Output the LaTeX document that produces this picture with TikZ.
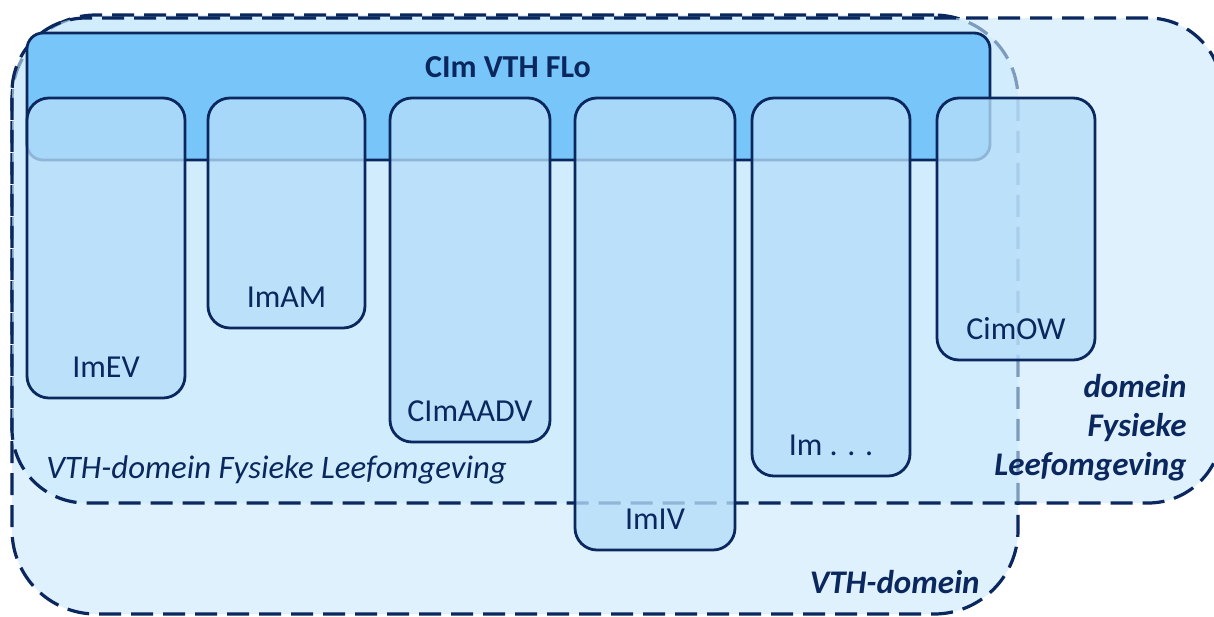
\documentclass[tikz,border=0pt]{standalone}
\usepackage{fontspec}
\setmainfont{Carlito}
\definecolor{navy}{HTML}{0A275E}
\definecolor{regfill}{HTML}{C8E9FD}
\definecolor{bandfill}{HTML}{78C5F9}
\definecolor{boxfill}{HTML}{B5DDFA}
\begin{document}
\begin{tikzpicture}[x=0.5pt,y=-0.5pt,
  sz/.style 2 args={minimum width=#1*0.5pt, minimum height=#2*0.5pt},
  basebox/.style={rectangle, inner sep=0pt, outer sep=0pt},
  region/.style={basebox, draw=navy, line width=1.6pt, dash pattern=on 11pt off 5pt, fill=regfill, fill opacity=0.6, rounded corners=#1},
  band/.style={basebox, draw=navy, line width=1.4pt, fill=bandfill, rounded corners=8pt},
  imbox/.style={basebox, draw=navy, line width=1.4pt, fill=boxfill, fill opacity=0.78, rounded corners=11pt},
  lbl/.style={text=navy, inner sep=0pt, font=\fontsize{16}{18}\selectfont, anchor=base},
  dlbl/.style={text=navy, inner sep=0pt, font=\fontsize{16.5}{19.5}\selectfont\bfseries\itshape},
]
\useasboundingbox (0,0) rectangle (1214,616);
\clip (0,0) rectangle (1214,616);
\fill[white] (0,0) rectangle (1214,616);
% domains
\node[region=42pt, sz={1006}{599}] (vth) at (515,314.5) {};
\node[region=37pt, sz={1210}{485}] (fl) at (617,260.5) {};
% top band
\node[band, sz={963}{127}] (band) at (508.5,96.5) {};
% information models
\node[imbox, sz={158}{300}] (imev) at (106,248) {};
\node[imbox, sz={157}{230}] (imam) at (286.5,213) {};
\node[imbox, sz={160}{344}] (imaadv) at (470,270) {};
\node[imbox, sz={160}{452}] (imiv) at (655,324) {};
\node[imbox, sz={158}{378}] (imdots) at (831,287) {};
\node[imbox, sz={158}{262}] (imow) at (1016,229) {};
% labels
\node[lbl, font=\fontsize{16}{18}\selectfont\bfseries] (tband) at (508,77) {CIm VTH FLo};
\node[lbl] (timev) at ([yshift=10.5pt]imev.south) {ImEV};
\node[lbl] (timam) at ([yshift=10.5pt]imam.south) {ImAM};
\node[lbl] (timaadv) at ([yshift=10.5pt]imaadv.south) {CImAADV};
\node[lbl] (timiv) at ([yshift=10.5pt]imiv.south) {ImIV};
\node[lbl] (timdots) at ([yshift=10.5pt]imdots.south) {Im . . .};
\node[lbl] (timow) at ([yshift=10.5pt]imow.south) {CimOW};
\node[lbl, anchor=base west, font=\fontsize{16.4}{18}\selectfont\itshape] (tboth) at (46,478) {VTH-domein Fysieke Leefomgeving};
\node[dlbl, anchor=base east] (tvth) at (980,593) {VTH-domein};
\node[dlbl, align=right, anchor=east] (tfl) at (1187,428) {domein\\Fysieke\\Leefomgeving};
\end{tikzpicture}
\end{document}
